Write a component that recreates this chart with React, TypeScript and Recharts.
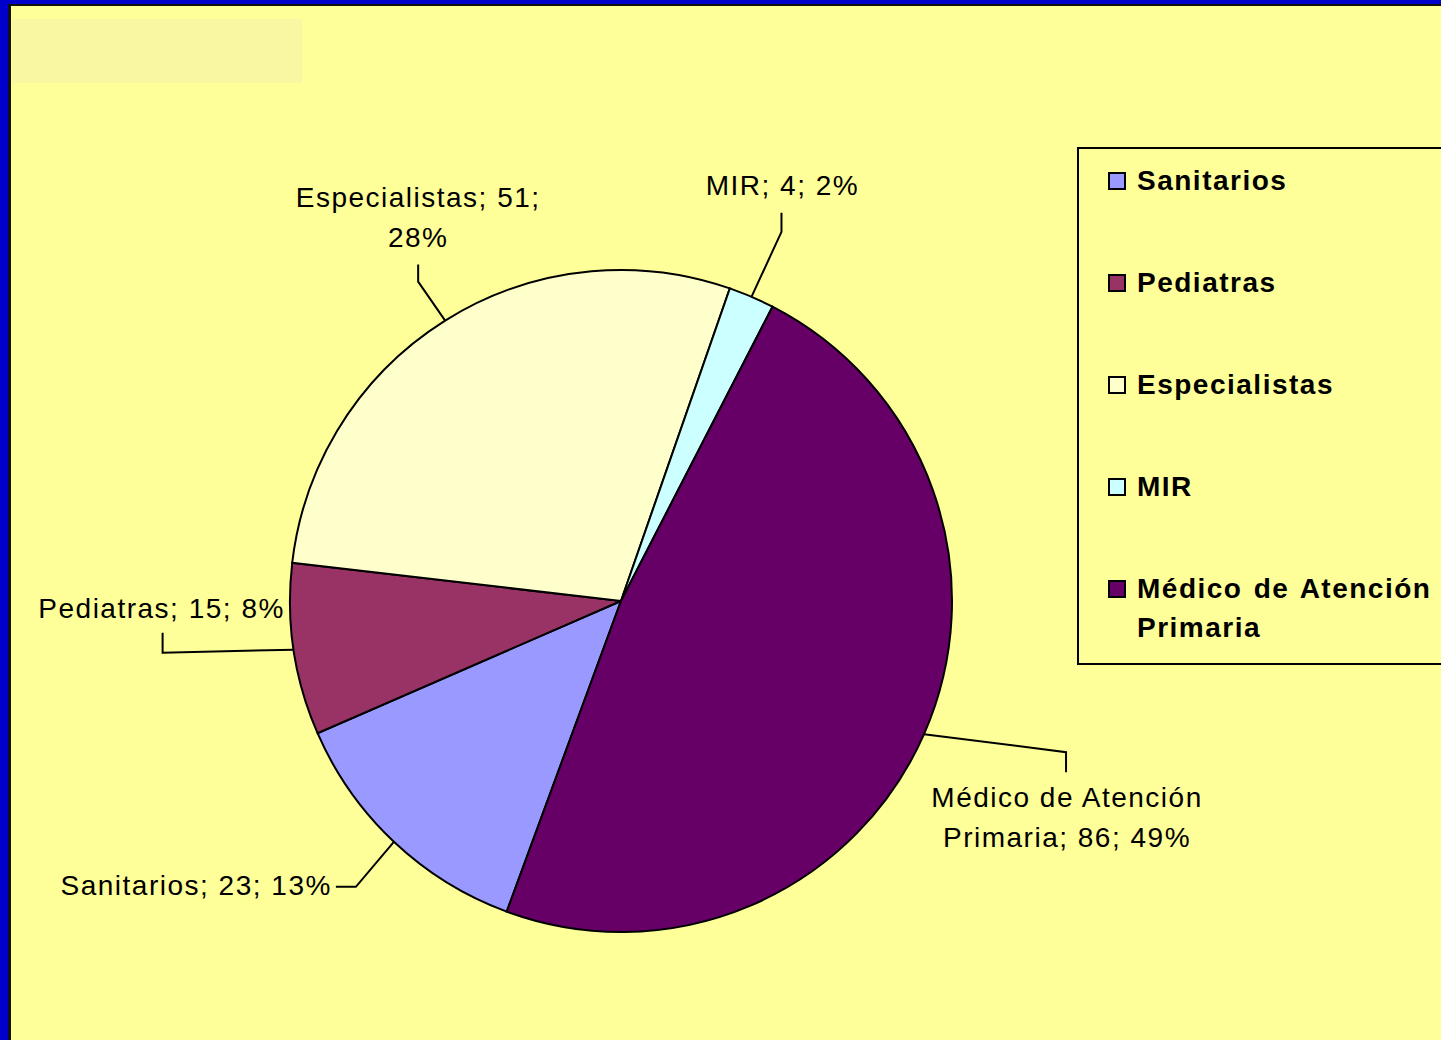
import React from 'react';
import { PieChart, Pie, Cell } from 'recharts';

// Source values
const categories = ['Sanitarios', 'Pediatras', 'Especialistas', 'MIR', 'Médico de Atención Primaria'];
const counts = [23, 15, 51, 4, 86];
const percentLabels = ['13%', '8%', '28%', '2%', '49%'];
const sliceColors = ['#9999FF', '#993366', '#FFFFCC', '#CCFFFF', '#660066'];

const data = categories.map((name, i) => ({ name, value: counts[i], pct: percentLabels[i] }));

const RADIAN = Math.PI / 180;
const FONT = "'Liberation Sans', Arial, sans-serif";

// leader-line layout per slice: elbow offset from the slice edge, a short stub, then the first text line's anchor
const labelLayout: Record<string, { elbow: [number, number]; stub: [number, number]; text: [number, number]; anchor: string; lines: (d: any) => string[] }> = {
  Sanitarios: { elbow: [-38, 45], stub: [-20, 0], text: [-4, -2], anchor: 'end', lines: (d) => [`${d.name}; ${d.value}; ${d.pct}`] },
  Pediatras: { elbow: [-131, 3], stub: [0, -20], text: [-1, -25], anchor: 'middle', lines: (d) => [`${d.name}; ${d.value}; ${d.pct}`] },
  Especialistas: { elbow: [-27, -39], stub: [0, -17], text: [0, -68], anchor: 'middle', lines: (d) => [`${d.name}; ${d.value};`, d.pct] },
  MIR: { elbow: [30, -65], stub: [0, -19], text: [1, -28], anchor: 'middle', lines: (d) => [`${d.name}; ${d.value}; ${d.pct}`] },
  'Médico de Atención Primaria': { elbow: [142, 18], stub: [0, 20], text: [1, 25], anchor: 'middle', lines: (d) => ['Médico de Atención', `Primaria; ${d.value}; ${d.pct}`] },
};

const renderLabel = (props: any) => {
  const { cx, cy, midAngle, outerRadius, payload } = props;
  const d = payload?.payload ?? payload;
  const cfg = labelLayout[d.name];
  if (!cfg) return null;
  const sx = cx + outerRadius * Math.cos(-midAngle * RADIAN);
  const sy = cy + outerRadius * Math.sin(-midAngle * RADIAN);
  const ex = sx + cfg.elbow[0];
  const ey = sy + cfg.elbow[1];
  const fx = ex + cfg.stub[0];
  const fy = ey + cfg.stub[1];
  const tx = fx + cfg.text[0];
  const ty = fy + cfg.text[1];
  const lines = cfg.lines(d);
  return (
    <g>
      <polyline points={`${sx},${sy} ${ex},${ey} ${fx},${fy}`} fill="none" stroke="#000" strokeWidth={2} />
      <text x={tx} y={ty} textAnchor={cfg.anchor as any} dominantBaseline="central" fill="#000" fontFamily={FONT} fontSize={28} letterSpacing={1.5}>
        {lines.map((l, i) => (
          <tspan key={i} x={tx} dy={i === 0 ? 0 : 40}>{l}</tspan>
        ))}
      </text>
    </g>
  );
};

const LegendBox = () => (
  <div style={{ position: 'absolute', left: 1077, top: 147, width: 380, height: 518, border: '2px solid #000', boxSizing: 'border-box', fontFamily: FONT }}>
    {categories.map((name, i) => (
      <div key={name} style={{ position: 'absolute', left: 29, top: 12 + i * 102, display: 'flex', alignItems: 'flex-start' }}>
        <div style={{ width: 14, height: 14, background: sliceColors[i], border: '2px solid #000', marginTop: 11, marginRight: 11, flexShrink: 0 }} />
        <div style={{ fontSize: 28, fontWeight: 700, lineHeight: '39px', color: '#000', width: 330, letterSpacing: 1.5, wordSpacing: 2 }}>
          {name === 'Médico de Atención Primaria' ? (<>Médico de Atención<br />Primaria</>) : name}
        </div>
      </div>
    ))}
  </div>
);

export default function App() {
  return (
    <div style={{ position: 'fixed', left: 0, top: 0, width: 1441, height: 1040, background: '#0000CC', overflow: 'hidden' }}>
      <div style={{ position: 'absolute', left: 8, top: 4, width: 1460, height: 1060, background: '#FFFF99', borderLeft: '3px solid #111', borderTop: '2px solid #111', boxSizing: 'border-box' }} />
      <div style={{ position: 'absolute', left: 12, top: 19, width: 290, height: 64, background: '#F9F7A2' }} />
      <div style={{ position: 'absolute', left: 0, top: 0 }}>
        <PieChart width={1441} height={1040} margin={{ top: 0, right: 0, bottom: 0, left: 0 }}>
          <Pie
            data={data}
            dataKey="value"
            nameKey="name"
            cx={621}
            cy={601}
            outerRadius={331}
            startAngle={-110.2}
            endAngle={-470.2}
            stroke="#000"
            strokeWidth={2}
            label={renderLabel}
            labelLine={false}
            isAnimationActive={false}
          >
            {data.map((d, i) => (
              <Cell key={d.name} fill={sliceColors[i]} />
            ))}
          </Pie>
        </PieChart>
      </div>
      <LegendBox />
    </div>
  );
}
